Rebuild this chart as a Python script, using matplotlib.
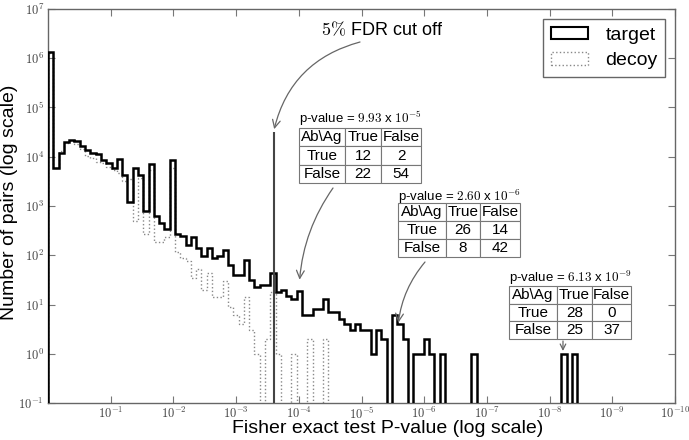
import numpy as np
import matplotlib
matplotlib.use('Agg')
import matplotlib.pyplot as plt
from matplotlib.patches import Patch
from matplotlib.ticker import FixedLocator, FuncFormatter, NullLocator

plt.rcParams['font.family'] = ['Liberation Sans', 'DejaVu Sans']
plt.rcParams['mathtext.fontset'] = 'cm'

# histogram in -log10(p): 100 equal bins from p = 1 down to the smallest p-value
n_bins = 100
max_nlogp = 8.44

target_counts = [
    1350000, 5900, 11700, 19500, 22000, 20500, 16500, 13500, 11700, 11500,
    8700, 7400, 5800, 8900, 4200, 1230, 5900, 4200, 800, 7200,
    630, 460, 340, 8500, 272, 250, 163, 240, 140, 98,
    140, 87, 95, 126, 62, 40, 40, 81, 31, 23,
    25, 25, 44, 18, 20, 15, 13, 19, 6, 6,
    8, 8, 13, 7, 7, 5, 4, 3, 4, 3,
    3, 1, 3, 2, 0, 6, 4, 2, 0, 1,
    1, 2, 1, 0, 1, 0, 0, 0, 0, 0,
    1, 0, 0, 0, 0, 0, 0, 0, 0, 0,
    0, 0, 0, 0, 0, 0, 0, 1, 0, 1,
]
decoy_counts = [
    1300000, 6000, 13000, 19000, 21000, 18000, 14500, 10500, 9300, 8000,
    7400, 6300, 5400, 4700, 3200, 3500, 490, 3700, 275, 5400,
    190, 190, 240, 5900, 115, 88, 75, 35, 52, 20,
    44, 14, 14, 30, 9, 6, 4, 14, 3, 1,
    0, 2, 18, 1, 0, 0, 1, 0, 0, 2,
    0, 0, 2, 0, 0, 0, 0, 0, 0, 0,
    0, 0, 0, 0, 0, 0, 0, 0, 0, 0,
    0, 0, 0, 0, 0, 0, 0, 0, 0, 0,
    0, 0, 0, 0, 0, 0, 0, 0, 0, 0,
    0, 0, 0, 0, 0, 0, 0, 0, 0, 0,
]

# 5% FDR cut off line
fdr_cutoff = 2.53e-4
fdr_height = 3.2e4

# example contingency tables
pvals = [9.93e-5, 2.60e-6, 6.13e-9]
pval_texts = [r'p-value = $9.93$ x $10^{-5}$',
              r'p-value = $2.60$ x $10^{-6}$',
              r'p-value = $6.13$ x $10^{-9}$']
tables = [
    [['Ab\\Ag', 'True', 'False'], ['True', '12', '2'], ['False', '22', '54']],
    [['Ab\\Ag', 'True', 'False'], ['True', '26', '14'], ['False', '8', '42']],
    [['Ab\\Ag', 'True', 'False'], ['True', '28', '0'], ['False', '25', '37']],
]

edges_p = 10.0 ** (-np.linspace(0, max_nlogp, n_bins + 1))
floor = 1e-3
target = np.array(target_counts, dtype=float)
decoy = np.array(decoy_counts, dtype=float)
target_plot = np.where(target > 0, target, floor)
decoy_plot = np.where(decoy > 0, decoy, floor)

W, H = 689, 440
fig = plt.figure(figsize=(W / 100, H / 100), dpi=100)
ax = fig.add_axes([48 / W, 37 / H, 627 / W, 394 / H])

ax.stairs(decoy_plot[::-1], edges_p[::-1], baseline=floor,
          color='#888888', lw=1, ls=':', zorder=2)
ax.stairs(target_plot[::-1], edges_p[::-1], baseline=floor,
          color='black', lw=1.8, zorder=3)
ax.vlines(fdr_cutoff, 0.1, fdr_height, color='#444444', lw=1.5, zorder=4)

ax.set_xscale('log')
ax.set_yscale('log')
ax.set_xlim(1, 1e-10)
ax.set_ylim(0.1, 1e7)

fmt = FuncFormatter(lambda v, p: r'$10^{%d}$' % int(round(np.log10(v))))
ax.xaxis.set_major_locator(FixedLocator(10.0 ** -np.arange(1, 11)))
ax.yaxis.set_major_locator(FixedLocator(10.0 ** np.arange(-1, 8)))
ax.xaxis.set_minor_locator(NullLocator())
ax.yaxis.set_minor_locator(NullLocator())
ax.xaxis.set_major_formatter(fmt)
ax.yaxis.set_major_formatter(fmt)
ax.tick_params(which='both', direction='in', top=True, right=True, length=5,
               width=0.8, color='#777777', labelsize=9, labelcolor='#444444')
ax.tick_params(axis='x', pad=2)
ax.tick_params(axis='y', pad=3)
for s in ax.spines.values():
    s.set_color('#666666')
    s.set_linewidth(1)

ax.set_xlabel('Fisher exact test P-value (log scale)', fontsize=14)
ax.set_ylabel('Number of pairs (log scale)', fontsize=14)
ax.xaxis.set_label_coords((388 - 48) / 627, -0.043)
ax.yaxis.set_label_coords((18 - 48) / 627, 0.51)

handles = [Patch(facecolor='white', edgecolor='black', lw=1.5, label='target'),
           Patch(facecolor='white', edgecolor='#888888', lw=1, ls=':', label='decoy')]
leg = ax.legend(handles=handles, loc='upper right', fontsize=14, fancybox=False,
                framealpha=1, edgecolor='#666666', handlelength=1.9,
                handleheight=0.6, handletextpad=0.9, borderpad=0.4,
                labelspacing=0.45)
leg.get_frame().set_linewidth(1)

# FDR annotation
fig.text(382, H - 35, r'$5\%$ FDR cut off', fontsize=13, ha='center',
         va='baseline', transform=None)
ax.annotate('', xy=(fdr_cutoff, fdr_height), xycoords='data',
            xytext=(360, H - 42), textcoords='figure pixels',
            arrowprops=dict(arrowstyle='->', color='#666666', lw=0.9,
                            shrinkA=0, shrinkB=2, mutation_scale=14,
                            connectionstyle='arc3,rad=0.3'))


def axes_box(left, top, right, bottom):
    return [(left - 48) / 627, (403 - bottom) / 394,
            (right - left) / 627, (bottom - top) / 394]


table_boxes = [(299, 128, 421, 183), (398, 203, 520, 257), (509, 286, 631, 339)]
col_widths = [[46, 36, 40], [48, 34, 40], [48, 35, 39]]
label_pos = [(299, 118), (398, 197), (509, 278)]
arrow_start = [(333, 188), (425, 262), (563, 341)]
arrow_rad = [0.15, 0.15, 0.0]
arrow_shrink = [8, 1, 2]

for i in range(3):
    tab = ax.table(cellText=tables[i], cellLoc='center', colWidths=col_widths[i],
                   bbox=axes_box(*table_boxes[i]))
    tab.auto_set_font_size(False)
    tab.set_fontsize(11)
    tab.set_zorder(6)
    for cell in tab.get_celld().values():
        cell.set_edgecolor('#777777')
        cell.set_linewidth(0.8)
        cell.set_facecolor('white')
    lx, ly = label_pos[i]
    fig.text(lx, H - ly, pval_texts[i], fontsize=9.5, ha='left', va='center',
             transform=None)
    k = int(np.log10(1 / pvals[i]) / max_nlogp * n_bins)
    ax.annotate('', xy=(pvals[i], target[k]), xycoords='data',
                xytext=(arrow_start[i][0], H - arrow_start[i][1]),
                textcoords='figure pixels',
                arrowprops=dict(arrowstyle='->', color='#666666', lw=0.9,
                                shrinkA=0, shrinkB=arrow_shrink[i],
                                mutation_scale=10 if i == 2 else 14,
                                connectionstyle='arc3,rad=%.2f' % arrow_rad[i]))

fig.savefig('out.png', dpi=100)
